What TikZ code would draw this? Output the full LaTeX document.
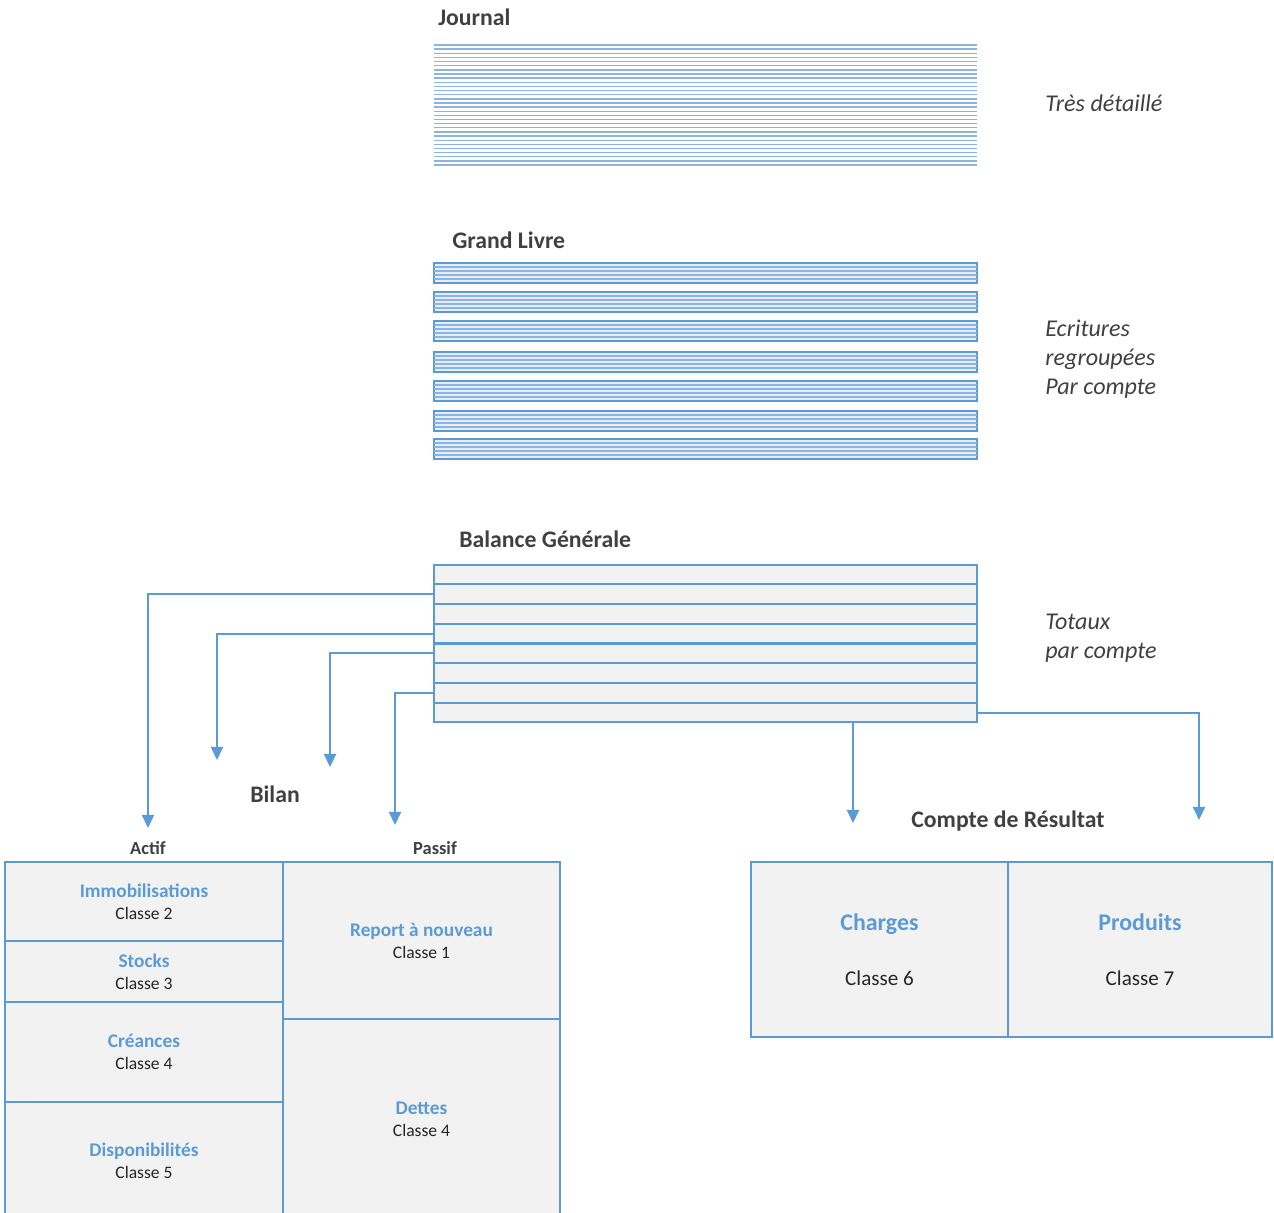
\documentclass[tikz,border=0pt]{standalone}
\usepackage{fontspec}
\setmainfont{Carlito}
\usepackage{xcolor}
\usetikzlibrary{positioning,calc,arrows.meta}
\definecolor{accent}{HTML}{5B9BD5}
\definecolor{titlegray}{HTML}{404040}
\definecolor{cellgray}{HTML}{F2F2F2}
\definecolor{jline}{HTML}{8DB4E0}
\definecolor{strip}{HTML}{E4EEF8}

\begin{document}
\begin{tikzpicture}[
    title/.style={font=\fontsize{13.5}{16}\selectfont\bfseries,text=titlegray,anchor=west,inner sep=0pt},
    note/.style={font=\fontsize{13.7}{16.4}\selectfont\itshape,text=titlegray,anchor=west,align=left,inner sep=0pt},
    side/.style={font=\fontsize{10.5}{12}\selectfont\bfseries,text=titlegray,inner sep=0pt},
    cell/.style={draw=accent,line width=1pt,fill=cellgray,rectangle,align=center,inner sep=0pt,text=black!85,font=\fontsize{10}{12.5}\selectfont},
    rcell/.style={cell,font=\fontsize{12}{14.4}\selectfont},
    flow/.style={draw=accent,line width=1.2pt,-{Triangle[width=0.24cm,length=0.26cm]}}
  ]
    \useasboundingbox (0,0) rectangle (25.48,-24.26);

    % Journal
    \node[title] (jtitle) at (8.76,-0.34) {Journal};
    \foreach \k in {0,...,29}
      \draw[jline,line width=0.8pt] (8.68,{-0.9-\k*0.0828}) -- (19.54,{-0.9-\k*0.0828});
    \node[note] (jnote) at (20.9,-2.06) {Très détaillé};

    % Grand Livre
    \node[title] (gltitle) at (9.04,-4.8) {Grand Livre};
    \foreach \y in {-5.26,-5.84,-6.42,-7.04,-7.62,-8.22,-8.78} {
      \draw[accent,line width=0.8pt,fill=strip] (8.68,\y) rectangle (19.54,\y-0.4);
      \foreach \k in {1,...,4}
        \draw[jline,line width=0.6pt] (8.68,{\y-\k*0.08}) -- (19.54,{\y-\k*0.08});
    }
    \node[note] (glnote) at (20.9,-7.18) {Ecritures\\regroupées\\Par compte};

    % Balance Generale
    \node[title] (baltitle) at (9.18,-10.78) {Balance Générale};
    \node[draw=accent,line width=1pt,fill=cellgray,minimum width=10.86cm,minimum height=3.14cm,inner sep=0pt] (bal) at (14.11,-12.87) {};
    \foreach \k in {1,...,7}
      \draw[accent,line width=1.2pt] ($(bal.north west)!{\k/8}!(bal.south west)$) -- ($(bal.north east)!{\k/8}!(bal.south east)$);
    \node[note] (balnote) at (20.9,-12.77) {Totaux\\par compte};

    % Bilan
    \node[title,anchor=center] (bilan) at (5.5,-15.88) {Bilan};
    \node[side] (actif) at (2.96,-16.96) {Actif};
    \node[side] (passif) at (8.7,-16.96) {Passif};

    \node[cell,minimum width=5.56cm,minimum height=1.58cm] (immo) at (2.88,-18.03)
      {\textcolor{accent}{\bfseries\fontsize{11}{12.5}\selectfont Immobilisations}\\Classe 2};
    \node[cell,minimum width=5.56cm,minimum height=1.22cm] (stocks) at (2.88,-19.43)
      {\textcolor{accent}{\bfseries\fontsize{11}{12.5}\selectfont Stocks}\\Classe 3};
    \node[cell,minimum width=5.56cm,minimum height=2.0cm] (creances) at (2.88,-21.04)
      {\textcolor{accent}{\bfseries\fontsize{11}{12.5}\selectfont Créances}\\Classe 4};
    \node[cell,minimum width=5.56cm,minimum height=2.36cm] (dispo) at (2.88,-23.22)
      {\textcolor{accent}{\bfseries\fontsize{11}{12.5}\selectfont Disponibilités}\\Classe 5};
    \node[cell,minimum width=5.54cm,minimum height=3.14cm] (report) at (8.43,-18.81)
      {\textcolor{accent}{\bfseries\fontsize{11}{12.5}\selectfont Report à nouveau}\\Classe 1};
    \node[cell,minimum width=5.54cm,minimum height=4.02cm] (dettes) at (8.43,-22.39)
      {\textcolor{accent}{\bfseries\fontsize{11}{12.5}\selectfont Dettes}\\Classe 4};

    % Compte de Resultat
    \node[title,anchor=center] (resultat) at (20.16,-16.42) {Compte de Résultat};
    \node[rcell,minimum width=5.14cm,minimum height=3.5cm] (charges) at (17.59,-18.99)
      {\textcolor{accent}{\bfseries\fontsize{13.6}{16}\selectfont Charges}\\[17pt]Classe 6};
    \node[rcell,minimum width=5.28cm,minimum height=3.5cm] (produits) at (22.8,-18.99)
      {\textcolor{accent}{\bfseries\fontsize{13.6}{16}\selectfont Produits}\\[17pt]Classe 7};

    % Flows
    \coordinate (to-immo) at (2.96,-16.56);
    \coordinate (to-stocks) at (4.34,-15.2);
    \coordinate (to-creances) at (6.6,-15.34);
    \coordinate (to-passif) at (7.9,-16.5);
    \coordinate (to-charges) at (17.06,-16.46);
    \coordinate (to-produits) at (23.98,-16.4);

    \draw[flow] ($(bal.north west)!0.1875!(bal.south west)$) -| (to-immo);
    \draw[flow] ($(bal.north west)!0.4375!(bal.south west)$) -| (to-stocks);
    \draw[flow] ($(bal.north west)!0.5625!(bal.south west)$) -| (to-creances);
    \draw[flow] ($(bal.north west)!0.8125!(bal.south west)$) -| (to-passif);
    \draw[flow] (bal.south -| to-charges) -- (to-charges);
    \draw[flow] ($(bal.north east)!0.9375!(bal.south east)$) -| (to-produits);
  \end{tikzpicture}
\end{document}
